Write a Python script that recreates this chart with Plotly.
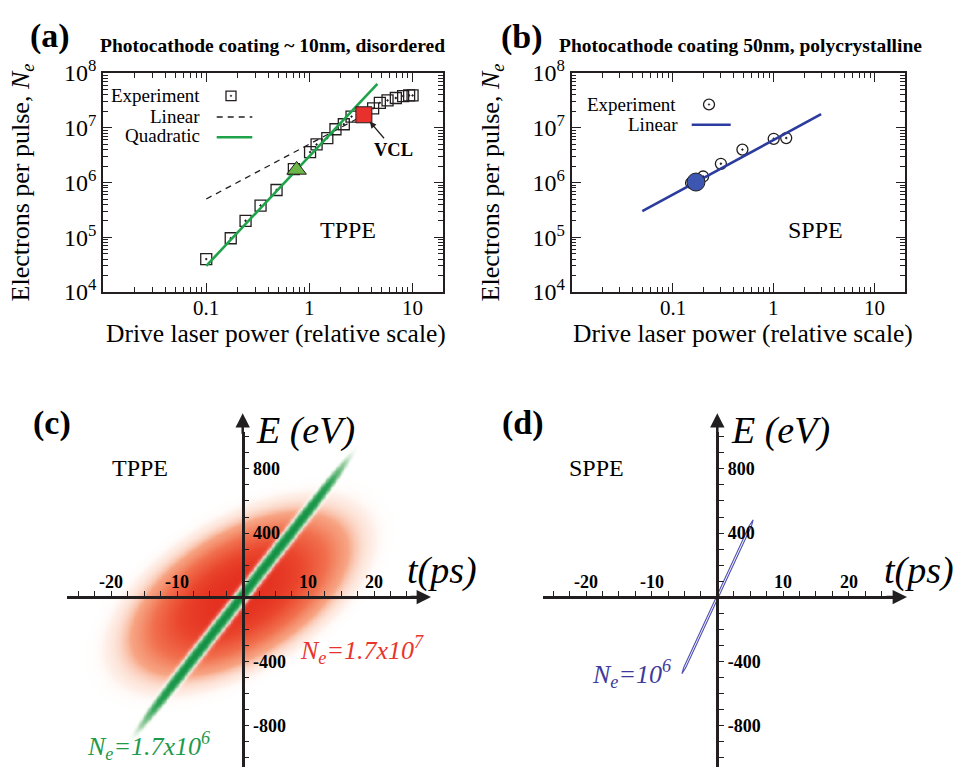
import numpy as np
import plotly.graph_objects as go

W, H = 956, 780
def fx(x): return x / W
def fy(y): return 1 - y / H

SERIF = "Liberation Serif, Times New Roman, Times, serif"
INK = "#231f20"
GREEN = "#1fa34a"
RED = "#e8302c"
BLUE = "#2b3c9e"

# ---------------- panel (a) data ----------------
a_exp_x = [0.100, 0.173, 0.241, 0.337, 0.482, 0.710, 1.02, 1.18, 1.50, 1.80, 2.17, 2.58,
           4.18, 4.86, 5.77, 6.95, 8.18, 9.35, 10.1]
a_exp_y = [4.0e4, 9.6e4, 2.0e5, 3.8e5, 7.3e5, 1.76e6, 3.6e6, 4.96e6, 6.5e6, 9.4e6, 1.16e7, 1.60e7,
           2.27e7, 2.86e7, 3.16e7, 3.50e7, 3.80e7, 3.90e7, 3.90e7]
a_lin_x = [0.1, 3.4]
a_lin_y = [5.0e5, 1.7e7]
a_quad_x = [0.1, 4.6]
a_quad_y = [3.0e4, 6.35e7]
a_tppe_x = [0.755]
a_tppe_y = [1.7e6]
a_vcl_x = [3.4]
a_vcl_y = [1.73e7]

# ---------------- panel (b) data ----------------
b_exp_x = [0.152, 0.200, 0.300, 0.490, 1.00, 1.33]
b_exp_y = [9.8e5, 1.29e6, 2.2e6, 4.0e6, 6.3e6, 6.5e6]
b_lin_x = [0.05, 2.95]
b_lin_y = [3.0e5, 1.77e7]
b_sppe_x = [0.17]
b_sppe_y = [1.02e6]

x_tickvals = [0.1, 1, 10]
x_ticktext = ["0.1", "1", "10"]
y_tickvals = [1e4, 1e5, 1e6, 1e7, 1e8]
y_ticktext = ["10<sup>4</sup>", "10<sup>5</sup>", "10<sup>6</sup>", "10<sup>7</sup>", "10<sup>8</sup>"]

# ---------------- panels (c)/(d) schematic ----------------
t_tickvals = [-25, -22.5, -20, -17.5, -15, -12.5, -10, -7.5, -5, -2.5, 0,
              2.5, 5, 7.5, 10, 12.5, 15, 17.5, 20, 22.5, 25]
t_labelvals = [-20, -10, 10, 20]
t_labeltext = ["-20", "-10", "10", "20"]
E_minorvals = [-1000, -900, -800, -700, -600, -500, -400, -300, -200, -100, 0,
               100, 200, 300, 400, 500, 600, 700, 800, 900, 1000]
E_labelvals = [-800, -400, 400, 800]
E_labeltext = ["<b>-800</b>", "<b>-400</b>", "<b>400</b>", "<b>800</b>"]

# TPPE bunch (red): phase-space ellipse parameters (ps, eV)
red_t0, red_E0 = -0.5, 20.0
red_sig_t, red_sig_E, red_cov = 18.65, 576.0, 5800.0
# Ne=1.7e6 bunch (green): chirp (eV/ps), offset, width, half length
green_chirp, green_E0, green_sig_u, green_len = 52.5, 20.0, 46.0, 15.0
# (d) bunch outline (blue)
d_stripe_t = [-5.40, -4.82, 5.20, 5.45, 4.86, -5.14, -5.40]
d_stripe_E = [-478, -440, 445, 482, 445, -440, -478]

c_t_range = [-26.8, 26.7]
d_t_range = [-26.6, 26.9]
E_range = [-1060, 1028]

fig = go.Figure()

# ---- (a)
fig.add_trace(go.Scatter(x=a_lin_x, y=a_lin_y, mode="lines", xaxis="x", yaxis="y",
                         line=dict(color=INK, width=1.3, dash="6px,5px"), hoverinfo="skip"))
fig.add_trace(go.Scatter(x=a_exp_x, y=a_exp_y, mode="markers", xaxis="x", yaxis="y",
                         marker=dict(symbol="square-open-dot", size=11, color=INK, line=dict(width=1.3))))
fig.add_trace(go.Scatter(x=a_quad_x, y=a_quad_y, mode="lines", xaxis="x", yaxis="y",
                         line=dict(color=GREEN, width=2.6), hoverinfo="skip"))
fig.add_trace(go.Scatter(x=a_tppe_x, y=a_tppe_y, mode="markers", xaxis="x", yaxis="y",
                         marker=dict(symbol="triangle-up", size=17, color="#6cb64a", line=dict(color=INK, width=1))))
fig.add_trace(go.Scatter(x=a_vcl_x, y=a_vcl_y, mode="markers", xaxis="x", yaxis="y",
                         marker=dict(symbol="square", size=16, color=RED, line=dict(color=INK, width=1))))

# ---- (b)
fig.add_trace(go.Scatter(x=b_exp_x, y=b_exp_y, mode="markers", xaxis="x2", yaxis="y2",
                         marker=dict(symbol="circle-open-dot", size=11, color=INK, line=dict(width=1.3))))
fig.add_trace(go.Scatter(x=b_lin_x, y=b_lin_y, mode="lines", xaxis="x2", yaxis="y2",
                         line=dict(color=BLUE, width=2.6), hoverinfo="skip"))
fig.add_trace(go.Scatter(x=b_sppe_x, y=b_sppe_y, mode="markers", xaxis="x2", yaxis="y2",
                         marker=dict(symbol="circle", size=18, color="#3d56b2", line=dict(color=INK, width=1))))

# ---- (c) heatmaps
c_t_grid = np.linspace(c_t_range[0], c_t_range[1], 215)
c_E_grid = np.linspace(E_range[0], E_range[1], 210)
TT, EE = np.meshgrid(c_t_grid, c_E_grid)
C = np.array([[red_sig_t ** 2, red_cov], [red_cov, red_sig_E ** 2]])
Ci = np.linalg.inv(C)
dt = TT - red_t0
dE = EE - red_E0
q = np.sqrt(Ci[0, 0] * dt ** 2 + 2 * Ci[0, 1] * dt * dE + Ci[1, 1] * dE ** 2)
red_z = np.round(np.exp(-(q / 0.74) ** 3), 4)

u = EE - (green_chirp * TT + green_E0)
green_z = np.round(np.exp(-(u / green_sig_u) ** 2) * np.exp(-(TT / green_len) ** 6), 4)

red_scale = [[0, "rgba(255,255,255,0)"], [0.04, "rgba(253,228,216,0.6)"],
             [0.18, "rgba(247,165,132,1)"], [0.42, "rgba(241,112,78,1)"],
             [0.75, "rgba(234,70,45,1)"], [1, "rgba(228,48,32,1)"]]
green_scale = [[0, "rgba(255,255,255,0)"], [0.05, "rgba(255,255,255,0.3)"],
               [0.14, "rgba(238,247,238,0.85)"], [0.3, "rgba(150,205,160,1)"],
               [0.6, "rgba(45,163,88,1)"], [1, "rgba(18,142,68,1)"]]

fig.add_trace(go.Heatmap(x=c_t_grid, y=c_E_grid, z=red_z, colorscale=red_scale, zmin=0, zmax=1,
                         zsmooth="best", showscale=False, hoverinfo="skip", xaxis="x3", yaxis="y3"))
fig.add_trace(go.Heatmap(x=c_t_grid, y=c_E_grid, z=green_z, colorscale=green_scale, zmin=0, zmax=1,
                         zsmooth="best", showscale=False, hoverinfo="skip", xaxis="x3", yaxis="y3"))

# ---- (d)
fig.add_trace(go.Scatter(x=d_stripe_t, y=d_stripe_E, mode="lines", xaxis="x4", yaxis="y4",
                         line=dict(color="#5252b4", width=1.1), hoverinfo="skip"))

# ---------------- axes ----------------
x_minor = [k * 10 ** d for d in (-2, -1, 0, 1) for k in range(2, 10) if k * 10 ** d <= 20]
y_minor = [k * 10 ** d for d in (4, 5, 6, 7) for k in range(2, 10)]

def log_axis(domain, rng, vals, text, minor_vals, anchor, size, labels):
    return dict(type="log", domain=domain, range=rng, anchor=anchor, showline=True, linecolor=INK,
                linewidth=2.2, mirror="allticks", ticks="inside", ticklen=9, tickwidth=1.4,
                tickcolor=INK, tickmode="array", tickvals=vals, ticktext=text,
                showticklabels=labels,
                tickfont=dict(family=SERIF, size=size, color="black"), showgrid=False, zeroline=False,
                minor=dict(ticks="inside", ticklen=4.5, tickwidth=1.1, tickcolor=INK,
                           tickmode="array", tickvals=minor_vals, showgrid=False),
                fixedrange=True)

def arrow_axis(domain, rng, vals, text, minor_vals, position, side, labels):
    d = dict(domain=domain, range=rng, anchor="free", position=position, side=side,
             showline=True, linecolor=INK, linewidth=2.5, ticks="outside", ticklen=5,
             tickwidth=1.4, tickcolor=INK, tickmode="array", tickvals=vals,
             showticklabels=labels,
             tickfont=dict(family=SERIF, size=18, color="black"),
             showgrid=False, zeroline=False, fixedrange=True)
    if text is not None:
        d["ticktext"] = text
    if minor_vals is not None:
        d["minor"] = dict(ticks="outside", ticklen=5, tickwidth=1.4, tickcolor=INK,
                          tickmode="array", tickvals=minor_vals, showgrid=False)
    return d

fig.update_layout(
    width=W, height=H, margin=dict(l=0, r=0, t=0, b=0),
    paper_bgcolor="white", plot_bgcolor="rgba(0,0,0,0)", showlegend=False,
    font=dict(family=SERIF, color="black"),
    xaxis=log_axis([fx(103.3), fx(443)], [-2, 1.3], x_tickvals, x_ticktext, x_minor, "y", 22, False),
    yaxis=log_axis([fy(286), fy(58.3)], [4, 8], y_tickvals, y_ticktext, y_minor, "x", 24, True),
    xaxis2=log_axis([fx(571.7), fx(905)], [-2, 1.3], x_tickvals, x_ticktext, x_minor, "y2", 22, False),
    yaxis2=log_axis([fy(286), fy(58.3)], [4, 8], y_tickvals, y_ticktext, y_minor, "x2", 24, True),
    xaxis3=arrow_axis([fx(66.7), fx(418)], c_t_range, t_tickvals, None, None, fy(603.3), "top", False),
    yaxis3=arrow_axis([0, fy(432)], E_range, E_labelvals, E_labeltext, E_minorvals, fx(242.7), "right", True),
    xaxis4=arrow_axis([fx(542.7), fx(894)], d_t_range, t_tickvals, None, None, fy(603.3), "top", False),
    yaxis4=arrow_axis([0, fy(432)], E_range, E_labelvals, E_labeltext, E_minorvals, fx(717.3), "right", True),
)

# ---------------- text ----------------
def txt(x, y, text, size, color="black", xanchor="center", angle=0):
    fig.add_annotation(x=fx(x), y=fy(y), xref="paper", yref="paper", text=text, showarrow=False,
                       font=dict(family=SERIF, size=size, color=color), xanchor=xanchor,
                       yanchor="middle", textangle=angle)

# x tick labels placed along their axes
for xr in ("x", "x2"):
    for v, s in zip(x_tickvals, x_ticktext):
        fig.add_annotation(x=np.log10(v), y=fy(302.5), xref=xr, yref="paper", text=s, showarrow=False,
                           font=dict(family=SERIF, size=21, color="black"), yanchor="middle")
for xr in ("x3", "x4"):
    for v, s in zip(t_labelvals, t_labeltext):
        fig.add_annotation(x=v, y=fy(588), xref=xr, yref="paper", text="<b>%s</b>" % s, showarrow=False,
                           font=dict(family=SERIF, size=18, color="black"), yanchor="middle")

ytitle = "Electrons per pulse, <i>N</i><sub><i>e</i></sub>"
xtitle = "Drive laser power (relative scale)"

# (a)
txt(50, 20, "<b>(a)</b>", 34)
txt(272, 30, "<b>Photocathode coating ~ 10nm, disordered</b>", 19.5)
txt(202, 82, "Experiment", 19, xanchor="right")
txt(202, 103, "Linear", 19, xanchor="right")
txt(202, 123.5, "Quadratic", 19, xanchor="right")
txt(347.5, 222, "TPPE", 24)
txt(276, 329, xtitle, 25.5)
txt(22, 172, ytitle, 26, angle=-90)
fig.add_annotation(x=np.log10(a_vcl_x[0]), y=np.log10(a_vcl_y[0]), xref="x", yref="y",
                   text="<b>VCL</b>", font=dict(family=SERIF, size=18.5, color="black"),
                   showarrow=True, ax=30, ay=35, arrowhead=2, arrowsize=1, arrowwidth=1.3,
                   arrowcolor=INK, standoff=9)

# (b)
txt(522, 21, "<b>(b)</b>", 34)
txt(740, 30, "<b>Photocathode coating 50nm, polycrystalline</b>", 19.5)
txt(678, 91, "Experiment", 19, xanchor="right")
txt(680, 112, "Linear", 19, xanchor="right")
txt(815.5, 222, "SPPE", 24)
txt(743, 329, xtitle, 25.5)
txt(492, 172, ytitle, 26, angle=-90)

# (c)
txt(52, 422, "<b>(c)</b>", 34)
txt(140, 469, "TPPE", 24)
txt(305, 430, "<i>E (eV)</i>", 38)
txt(442, 576, "<i>t(ps)</i>", 38)
txt(362, 658, "<i>N</i><sub><i>e</i></sub><i>=1.7x10</i><sup><i>7</i></sup>", 26, color="#e8342c")
txt(148, 758, "<i>N</i><sub><i>e</i></sub><i>=1.7x10</i><sup><i>6</i></sup>", 26, color="#1e9a4a")

# (d)
txt(523, 422, "<b>(d)</b>", 34)
txt(596, 469, "SPPE", 24)
txt(780, 430, "<i>E (eV)</i>", 38)
txt(919, 576, "<i>t(ps)</i>", 38)
txt(631, 683, "<i>N</i><sub><i>e</i></sub><i>=10</i><sup><i>6</i></sup>", 26, color="#3d3a9a")

# axis arrowheads for the schematic panels
for (xt, yt, axp, ayp) in [(431, 603.3, -22, 0), (242.7, 412, 0, 22),
                           (907, 603.3, -22, 0), (717.3, 412, 0, 22)]:
    fig.add_annotation(x=fx(xt), y=fy(yt), xref="paper", yref="paper", text="", showarrow=True,
                       ax=axp, ay=ayp, arrowhead=2, arrowsize=1.15, arrowwidth=2.5, arrowcolor=INK)

# ---------------- legend glyphs (drawn) ----------------
shapes = [
    dict(type="rect", xref="paper", yref="paper", x0=fx(226), x1=fx(236), y0=fy(87), y1=fy(77),
         line=dict(color=INK, width=1.3)),
    dict(type="circle", xref="paper", yref="paper", x0=fx(230.2), x1=fx(231.8), y0=fy(82.8), y1=fy(81.2),
         line=dict(color=INK, width=0.5), fillcolor=INK),
    dict(type="line", xref="paper", yref="paper", x0=fx(216.7), x1=fx(252.3), y0=fy(104), y1=fy(104),
         line=dict(color=INK, width=1.3, dash="6px,5px")),
    dict(type="line", xref="paper", yref="paper", x0=fx(216.7), x1=fx(252.3), y0=fy(125), y1=fy(125),
         line=dict(color=GREEN, width=2.6)),
    dict(type="circle", xref="paper", yref="paper", x0=fx(703.5), x1=fx(714.5), y0=fy(96.5), y1=fy(85.5),
         line=dict(color=INK, width=1.3)),
    dict(type="circle", xref="paper", yref="paper", x0=fx(708.2), x1=fx(709.8), y0=fy(91.8), y1=fy(90.2),
         line=dict(color=INK, width=0.5), fillcolor=INK),
    dict(type="line", xref="paper", yref="paper", x0=fx(691.7), x1=fx(730.7), y0=fy(112), y1=fy(112),
         line=dict(color=BLUE, width=2.6)),
]
fig.update_layout(shapes=shapes)

fig.write_html("out.html", post_script="document.body.style.margin='0';")
